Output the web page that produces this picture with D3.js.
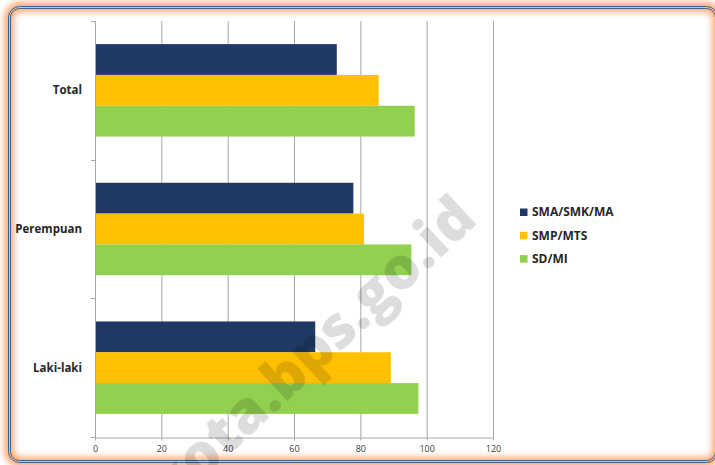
<!DOCTYPE html>
<html><head><meta charset="utf-8">
<script src="https://cdn.jsdelivr.net/npm/d3@7/dist/d3.min.js"></script>
<style>html,body{margin:0;padding:0;background:#fff;overflow:hidden}</style>
</head><body>
<svg id="chart" width="715" height="465"></svg>
<script>
const categories = ["Total", "Perempuan", "Laki-laki"];
const seriesNames = ["SMA/SMK/MA", "SMP/MTS", "SD/MI"];
const smaValues = [72.9, 77.9, 66.4];
const smpValues = [85.5, 81.1, 89.2];
const sdValues = [96.4, 95.4, 97.5];
const xTicks = [0, 20, 40, 60, 80, 100, 120];
const watermark = "kota.bps.go.id";

const seriesValues = [smaValues, smpValues, sdValues];
const colors = ["#203864", "#ffc000", "#92d050"];

const svg = d3.select("#chart");
const defs = svg.append("defs");
const f = defs.append("filter").attr("id","glow").attr("x","-10%").attr("y","-10%").attr("width","120%").attr("height","120%");
f.append("feGaussianBlur").attr("stdDeviation", 3);

// frame
svg.append("rect").attr("x",9).attr("y",7).attr("width",708).attr("height",455).attr("rx",11)
  .attr("fill","none").attr("stroke","#f8a36a").attr("stroke-width",10).attr("filter","url(#glow)").attr("opacity",0.9);
svg.append("rect").attr("x",8.5).attr("y",6.5).attr("width",709).attr("height",456).attr("rx",11)
  .attr("fill","none").attr("stroke","#3f6392").attr("stroke-width",1);
svg.append("rect").attr("x",10.5).attr("y",8.5).attr("width",705).attr("height",452).attr("rx",9)
  .attr("fill","none").attr("stroke","#3f6392").attr("stroke-width",1);

const x = d3.scaleLinear().domain([0,120]).range([95,493]);
const y = d3.scaleBand().domain(categories).range([21,437]).paddingInner(1/3).paddingOuter(1/6);
const ySub = d3.scaleBand().domain(seriesNames).range([0, y.bandwidth()]);

// gridlines
svg.append("g").selectAll("line").data(xTicks.slice(1)).join("line")
  .attr("x1", d => x(d)+0.5).attr("x2", d => x(d)+0.5).attr("y1",21).attr("y2",437)
  .attr("stroke","#a6a6a6").attr("stroke-width",1);

// bars
const rows = [];
categories.forEach((c,i) => seriesNames.forEach((s,j) => rows.push({c, s, v: seriesValues[j][i], color: colors[j]})));
svg.append("g").selectAll("rect").data(rows).join("rect")
  .attr("x", x(0)).attr("y", d => y(d.c) + ySub(d.s))
  .attr("width", d => x(d.v) - x(0)).attr("height", ySub.bandwidth())
  .attr("fill", d => d.color);

// y axis
const yAxisG = svg.append("g");
yAxisG.append("line").attr("x1",95.5).attr("x2",95.5).attr("y1",21).attr("y2",438).attr("stroke","#a6a6a6");
yAxisG.selectAll("line.t").data([0,1,2,3].map(i => 21 + i*y.step())).join("line").attr("class","t")
  .attr("x1",91).attr("x2",95).attr("y1",d=>Math.round(d)+0.5).attr("y2",d=>Math.round(d)+0.5).attr("stroke","#a6a6a6");
yAxisG.selectAll("text").data(categories).join("text")
  .attr("x",82).attr("y", d => y(d) + y.bandwidth()/2).attr("dy","0.35em")
  .attr("text-anchor","end").attr("font-family","Open Sans, sans-serif").attr("font-weight","bold")
  .attr("font-size","11.5px").attr("fill","#262626").text(d => d);

// x axis
const xAxis = d3.axisBottom(x).tickValues(xTicks).tickSize(3).tickSizeOuter(0);
const xg = svg.append("g").attr("transform","translate(0,437.5)").call(xAxis);
xg.select(".domain").attr("stroke","#a6a6a6");
xg.selectAll(".tick line").attr("stroke","#a6a6a6");
xg.selectAll(".tick text").attr("font-family","Open Sans, sans-serif").attr("font-size","9px").attr("fill","#404040").attr("dy","0.9em");

// legend
const lg = svg.append("g");
seriesNames.forEach((s,i) => {
  const ly = 212 + i*23.3;
  lg.append("rect").attr("x",520).attr("y",ly-3.5).attr("width",7.5).attr("height",7.5).attr("fill",colors[i]);
  lg.append("text").attr("x",532).attr("y",ly).attr("dy","0.35em").attr("font-family","Open Sans, sans-serif")
    .attr("font-weight","bold").attr("font-size","12px").attr("fill","#262626").text(s);
});

// watermark
svg.append("text").attr("transform","translate(310,349) rotate(-43)")
  .attr("text-anchor","middle").attr("dominant-baseline","central")
  .attr("font-family","Open Sans, sans-serif").attr("font-weight","800").attr("font-size","58px")
  .attr("fill","#000").attr("opacity",0.13).text(watermark);
</script>
</body></html>
